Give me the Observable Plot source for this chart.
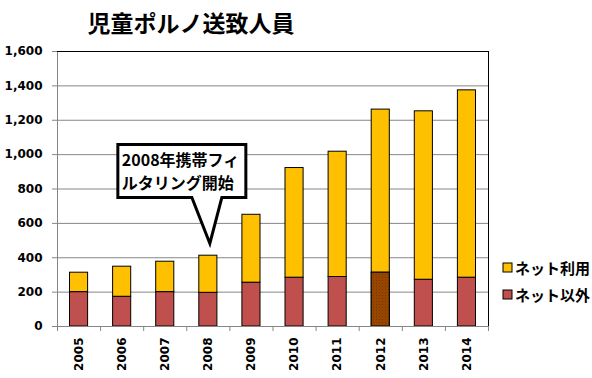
<!DOCTYPE html>
<html><head><meta charset="utf-8">
<script src="https://cdn.jsdelivr.net/npm/d3@7"></script>
<script src="https://cdn.jsdelivr.net/npm/@observablehq/plot@0.6"></script>
<style>body{margin:0;background:#fff} svg{display:block}</style>
</head><body><div id="chart"></div><script>
const title = "児童ポルノ送致人員";
const years = [2005, 2006, 2007, 2008, 2009, 2010, 2011, 2012, 2013, 2014];
const seriesNames = ["ネット利用", "ネット以外"];
const netUse =   [113, 175, 177, 216, 395, 638, 729, 949, 980, 1090];
const netOther = [200, 173, 200, 196, 255, 284, 288, 313, 272, 284];
const yTicks = [0, 200, 400, 600, 800, 1000, 1200, 1400, 1600];
const calloutLines = ["2008年携帯フィ", "ルタリング開始"];
const calloutYear = 2008;
const calloutValue = 480;
const highlightYear = 2012;

const colors = {"ネット利用": "#FFC000", "ネット以外": "#C0504D"};
const data = [];
years.forEach((y, i) => {
  data.push({year: y, series: "ネット以外", value: netOther[i]});
  data.push({year: y, series: "ネット利用", value: netUse[i]});
});
const x0 = years[0] - 0.5, x1max = years[years.length - 1] + 0.5;
const boundaries = years.map(y => y - 0.5).concat([x1max]);
const gray = "#868686";
const inset = 12.5;

const plot = Plot.plot({
  width: 592, height: 378,
  marginLeft: 57, marginRight: 104, marginTop: 51, marginBottom: 52,
  style: {fontFamily: "'DejaVu Sans', sans-serif", fontWeight: "bold", color: "#000", background: "#fff"},
  x: {type: "linear", domain: [x0, x1max], label: null},
  y: {domain: [0, 1600], label: null},
  marks: [
    Plot.gridY(yTicks.filter(v => v > 0 && v < 1600), {stroke: gray, strokeOpacity: 1}),
    Plot.rectY(data, Plot.stackY({
      x: "year", x1: d => d.year - 0.5, x2: d => d.year + 0.5, y: "value",
      fill: d => colors[d.series], stroke: "#000", strokeWidth: 1,
      insetLeft: inset, insetRight: inset
    })),
    Plot.rectY(data.filter(d => d.year === highlightYear && d.series === "ネット以外"), {
      x1: d => d.year - 0.5, x2: d => d.year + 0.5, y1: 0, y2: "value",
      fill: "url(#dots2012)", stroke: "#000", strokeWidth: 1,
      insetLeft: inset, insetRight: inset
    }),
    Plot.ruleX([x0], {stroke: gray}),
    Plot.ruleY([0], {stroke: gray}),
    Plot.ruleY([1600], {stroke: "#000"}),
    Plot.ruleX([x1max], {stroke: "#000"}),
    Plot.axisY({ticks: yTicks, tickFormat: d3.format(","), tickSize: 5, tickPadding: 10, stroke: gray, fill: "#000", fontSize: 12, fontWeight: "bold"}),
    Plot.axisX({ticks: boundaries, tickSize: 5, tickFormat: () => "", stroke: gray}),
    Plot.axisX({ticks: years, tickSize: 0, tickRotate: -90, tickPadding: 11, tickFormat: d => String(d), fill: "#000", fontSize: 12, fontWeight: "bold"})
  ]
});
document.getElementById("chart").appendChild(plot);

const svg = d3.select(plot);
const defs = svg.insert("defs", ":first-child");
const pat = defs.append("pattern").attr("id", "dots2012").attr("patternUnits", "userSpaceOnUse")
  .attr("width", 3).attr("height", 3);
pat.append("rect").attr("width", 3).attr("height", 3).attr("fill", "#974600");
pat.append("rect").attr("x", 1).attr("y", 1).attr("width", 1).attr("height", 1).attr("fill", "#7A3800");

const jp = "'Noto Sans CJK JP', sans-serif";
svg.append("text").attr("x", 191).attr("y", 22).attr("text-anchor", "middle")
  .attr("dominant-baseline", "central").style("font-family", jp).style("font-size", "23px")
  .style("font-weight", "bold").attr("fill", "#000").text(title);

seriesNames.forEach((name, i) => {
  const cy = 267.5 + i * 27;
  svg.append("rect").attr("x", 503).attr("y", cy - 4.5).attr("width", 9).attr("height", 9)
    .attr("fill", colors[name]).attr("stroke", "#000").attr("stroke-width", 1);
  svg.append("text").attr("x", 515).attr("y", cy).attr("dominant-baseline", "central")
    .attr("text-anchor", "start")
    .style("font-family", jp).style("font-size", "15px").style("font-weight", "bold")
    .attr("fill", "#000").text(name);
});

const sx = plot.scale("x"), sy = plot.scale("y");
const tipX = sx.apply(calloutYear) + 2, tipY = sy.apply(calloutValue);
const boxL = tipX - 92, boxR = tipX + 36, boxT = tipY - 99, boxB = tipY - 46;
svg.append("path")
  .attr("d", `M${boxL},${boxT}H${boxR}V${boxB}H${tipX + 12}L${tipX},${tipY}L${tipX - 18},${boxB}H${boxL}Z`)
  .attr("fill", "#fff").attr("stroke", "#000").attr("stroke-width", 3).attr("stroke-linejoin", "miter");
calloutLines.forEach((line, i) => {
  svg.append("text").attr("x", boxL + 4).attr("y", boxT + 14 + i * 23.5)
    .attr("dominant-baseline", "central").attr("text-anchor", "start")
    .style("font-family", jp).style("font-size", "16px")
    .style("font-weight", "bold").attr("fill", "#000").text(line);
});
</script></body></html>
